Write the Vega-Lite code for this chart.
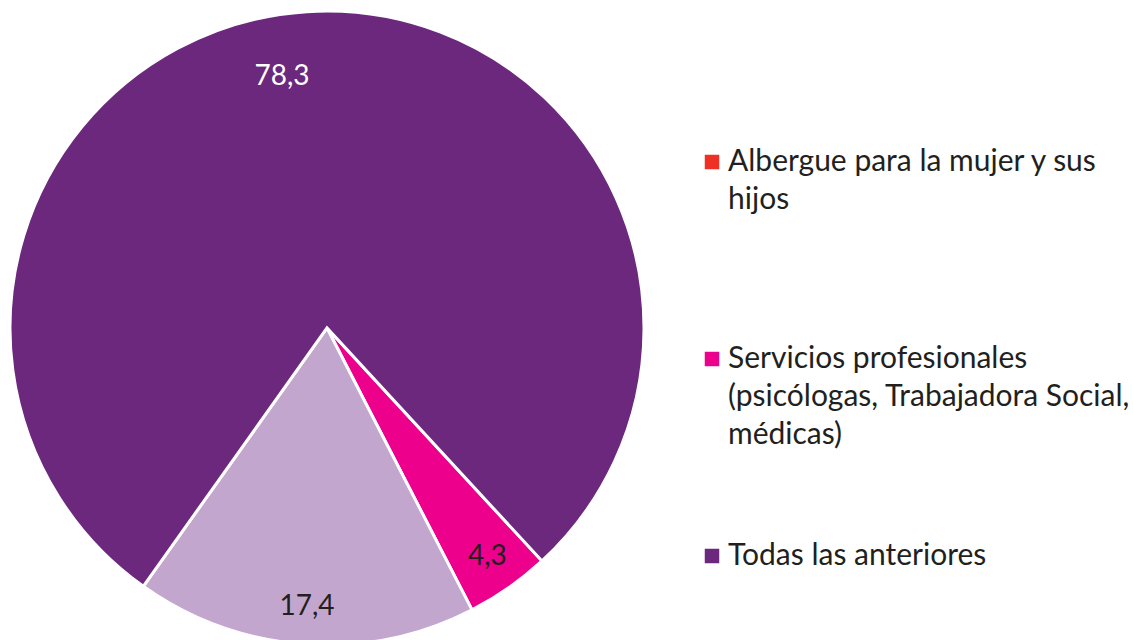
{
  "$schema": "https://vega.github.io/schema/vega-lite/v6.json",
  "width": 654,
  "height": 656,
  "padding": {"left": 0, "top": 0, "right": 479, "bottom": 0},
  "autosize": "none",
  "background": "white",
  "config": {
    "view": {"stroke": null},
    "style": {"guide-label": {"lineHeight": 38}},
    "locale": {"number": {"decimal": ",", "thousands": ".", "grouping": [3], "currency": ["", " €"]}}
  },
  "data": {
    "values": [
      {"categoria": "Albergue para la mujer y sus hijos", "valor": 0, "orden": 1},
      {"categoria": "Servicios profesionales (psicólogas, Trabajadora Social, médicas)", "valor": 4.3, "orden": 2},
      {"categoria": "Otra", "valor": 17.4, "orden": 3},
      {"categoria": "Todas las anteriores", "valor": 78.3, "orden": 4}
    ]
  },
  "encoding": {
    "theta": {"field": "valor", "type": "quantitative", "stack": true, "scale": {"range": [2.3963, 8.6795]}},
    "order": {"field": "orden", "type": "quantitative"}
  },
  "layer": [
    {
      "mark": {"type": "arc", "outerRadius": 317, "stroke": "white", "strokeWidth": 3},
      "encoding": {
        "color": {
          "field": "categoria",
          "type": "nominal",
          "scale": {
            "domain": ["Albergue para la mujer y sus hijos", "Servicios profesionales (psicólogas, Trabajadora Social, médicas)", "Otra", "Todas las anteriores"],
            "range": ["#EE3124", "#EC008C", "#C3A6CE", "#6B287D"]
          },
          "legend": {
            "values": ["Albergue para la mujer y sus hijos", "Servicios profesionales (psicólogas, Trabajadora Social, médicas)", "Todas las anteriores"],
            "title": null,
            "orient": "none",
            "legendX": 697,
            "legendY": 147,
            "padding": 0,
            "symbolType": "square",
            "symbolSize": 210,
            "symbolStrokeWidth": 0,
            "labelFont": "Lato",
            "labelFontSize": 30,
            "labelColor": "#231F20",
            "labelOffset": 1,
            "labelLimit": 0,
            "labelBaseline": "middle",
            "rowPadding": 91,
            "labelExpr": "datum.label == 'Albergue para la mujer y sus hijos' ? ['Albergue para la mujer y sus', 'hijos', ''] : datum.label == 'Todas las anteriores' ? datum.label : ['Servicios profesionales', '(psicólogas, Trabajadora Social,', 'médicas)']",
            "encode": {"labels": {"enter": {"lineHeight": {"value": 38}}, "update": {"lineHeight": {"value": 38}}}}
          }
        }
      }
    },
    {
      "mark": {"type": "text", "radius": 280, "fontSize": 28, "font": "Lato", "color": "#231F20"},
      "encoding": {
        "text": {"field": "valor", "type": "quantitative", "format": ".1f"},
        "opacity": {"condition": {"test": "datum.valor > 0 && datum.valor < 50", "value": 1}, "value": 0}
      }
    },
    {
      "mark": {"type": "text", "radius": 252, "dx": -29, "fontSize": 28, "font": "Lato", "color": "white"},
      "encoding": {
        "text": {"field": "valor", "type": "quantitative", "format": ".1f"},
        "opacity": {"condition": {"test": "datum.valor > 50", "value": 1}, "value": 0}
      }
    }
  ]
}
